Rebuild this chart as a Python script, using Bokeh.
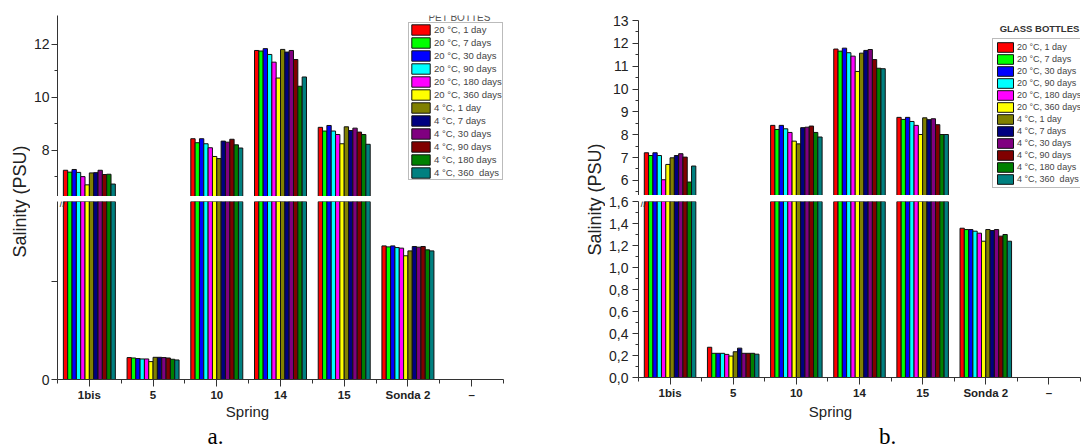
import numpy as np
from bokeh.plotting import figure
from bokeh.layouts import row, column
from bokeh.models import (ColumnDataSource, Range1d, FixedTicker, Legend, LegendItem,
                          Label, CustomJSTickFormatter)
from bokeh.transform import dodge
from bokeh.embed import file_html
from bokeh.resources import INLINE

# ---------------- data ----------------
CATEGORIES = ["1bis", "5", "10", "14", "15", "Sonda 2"]
TICK_LABELS = ["1bis", "5", "10", "14", "15", "Sonda 2", "–"]
SERIES = ["20 °C, 1 day", "20 °C, 7 days", "20 °C, 30 days", "20 °C, 90 days",
          "20 °C, 180 days", "20 °C, 360 days", "4 °C, 1 day", "4 °C, 7 days",
          "4 °C, 30 days", "4 °C, 90 days", "4 °C, 180 days", "4 °C, 360  days"]
COLORS = ["#FF0000", "#00FF00", "#0000FF", "#00FFFF", "#FF00FF", "#FFFF00",
          "#808000", "#000080", "#800080", "#800000", "#008000", "#008080"]

# PET bottles (panel a)
PET_1BIS = [7.25, 7.18, 7.28, 7.17, 7.01, 6.70, 7.15, 7.16, 7.25, 7.09, 7.10, 6.73]
PET_5 = [0.224, 0.220, 0.214, 0.210, 0.210, 0.183, 0.227, 0.227, 0.224, 0.220, 0.207, 0.200]
PET_10 = [8.44, 8.29, 8.44, 8.25, 8.10, 7.77, 7.69, 8.35, 8.31, 8.42, 8.21, 8.09]
PET_14 = [11.77, 11.75, 11.84, 11.62, 11.33, 10.73, 11.81, 11.71, 11.77, 11.43, 10.42, 10.77]
PET_15 = [8.87, 8.73, 8.94, 8.73, 8.60, 8.25, 8.89, 8.75, 8.84, 8.69, 8.60, 8.23]
PET_SONDA2 = [1.366, 1.356, 1.366, 1.349, 1.343, 1.265, 1.315, 1.360, 1.353, 1.360, 1.326, 1.315]

# Glass bottles (panel b)
GLASS_1BIS = [7.21, 7.09, 7.21, 7.09, 6.03, 6.70, 6.99, 7.09, 7.17, 7.02, 5.93, 6.63]
GLASS_5 = [0.275, 0.220, 0.220, 0.220, 0.210, 0.195, 0.234, 0.267, 0.220, 0.220, 0.220, 0.212]
GLASS_10 = [8.41, 8.23, 8.41, 8.26, 8.10, 7.72, 7.60, 8.31, 8.33, 8.38, 8.10, 7.90]
GLASS_14 = [11.75, 11.66, 11.79, 11.59, 11.44, 10.77, 11.57, 11.69, 11.73, 11.29, 10.91, 10.89]
GLASS_15 = [8.76, 8.67, 8.76, 8.58, 8.41, 8.01, 8.74, 8.66, 8.70, 8.44, 8.01, 8.01]
GLASS_SONDA2 = [1.357, 1.345, 1.345, 1.330, 1.312, 1.239, 1.345, 1.336, 1.345, 1.285, 1.300, 1.239]

PET_TICKS_UP = [8, 10, 12]
PET_MINOR_UP = [7, 9, 11]
PET_TICKS_LOW = [0, 1]
GLASS_TICKS_UP = [6, 7, 8, 9, 10, 11, 12, 13]
GLASS_MINOR_UP = [5.5, 6.5, 7.5, 8.5, 9.5, 10.5, 11.5, 12.5]
GLASS_TICKS_LOW = [0.0, 0.2, 0.4, 0.6, 0.8, 1.0, 1.2, 1.4, 1.6]
GLASS_MINOR_LOW = [0.1, 0.3, 0.5, 0.7, 0.9, 1.1, 1.3, 1.5]

FONT = "Liberation Sans"
SERIF = "Liberation Serif"
BAR_W = 0.068
AX = "#333333"


def make_source(lists):
    data = {"x": list(range(1, len(CATEGORIES) + 1))}
    for j in range(len(SERIES)):
        data["s%d" % j] = [lst[j] for lst in lists]
    return ColumnDataSource(data)


def base_fig(w, h, xr, yr, bl, br, bt, bb, xaxis=True):
    p = figure(width=w, height=h, x_range=xr, y_range=yr, output_backend="svg",
               toolbar_location=None, min_border_left=bl, min_border_right=br,
               min_border_top=bt, min_border_bottom=bb,
               x_axis_location="below" if xaxis else None)
    p.grid.visible = False
    p.outline_line_color = None
    p.background_fill_color = "white"
    p.border_fill_color = "white"
    return p


def style_y(ax, ticks, minor, fs, standoff):
    ax.ticker = FixedTicker(ticks=ticks, minor_ticks=minor)
    ax.axis_line_color = AX
    ax.major_tick_line_color = AX
    ax.minor_tick_line_color = AX
    ax.major_tick_in = 0
    ax.major_tick_out = 6
    ax.minor_tick_in = 0
    ax.minor_tick_out = 3
    ax.major_label_text_font = FONT
    ax.major_label_text_font_size = fs
    ax.major_label_text_color = "#222222"
    ax.major_label_standoff = standoff


def style_x(ax, standoff):
    n = len(TICK_LABELS)
    ax.ticker = FixedTicker(ticks=list(range(1, n + 1)),
                            minor_ticks=[i + 0.5 for i in range(n + 1)])
    ax.major_label_overrides = {i + 1: lab for i, lab in enumerate(TICK_LABELS)}
    ax.axis_line_color = AX
    ax.major_tick_line_color = AX
    ax.minor_tick_line_color = AX
    ax.major_tick_in = 0
    ax.major_tick_out = 7
    ax.minor_tick_in = 0
    ax.minor_tick_out = 4
    ax.major_label_text_font = FONT
    ax.major_label_text_font_style = "bold"
    ax.major_label_text_font_size = "11.5px"
    ax.major_label_text_color = "#222222"
    ax.major_label_standoff = standoff


def add_bars(p, src):
    rs = []
    for j in range(len(SERIES)):
        off = (j - (len(SERIES) - 1) / 2.0) * BAR_W
        r = p.vbar(x=dodge("x", off), top="s%d" % j, bottom=0, width=BAR_W, source=src,
                   fill_color=COLORS[j], line_color="#111111", line_width=1)
        rs.append(r)
    return rs


def panel(lists, W, bl, br, up_h, up_top, low_h, gap, low_bottom, up_range,
          low_range, up_ticks, up_minor, low_ticks, low_minor, low_formatter, low_overrides,
          legend_loc, legend_title, title_pos, title_bold, title_fs, leg_fs, glyph_w,
          leg_lh, leg_pad, leg_standoff, fs, y_standoff, x_standoff):
    src = make_source(lists)
    n = len(TICK_LABELS)
    xr = Range1d(0.5, n + 0.5)
    up = base_fig(W, up_h, xr, Range1d(*up_range), bl, br, up_top, 0, xaxis=False)
    low = base_fig(W, low_h, xr, Range1d(*low_range), bl, br, gap, low_bottom)
    rs = add_bars(up, src)
    add_bars(low, src)
    style_y(up.yaxis[0], up_ticks, up_minor, fs, y_standoff)
    style_y(low.yaxis[0], low_ticks, low_minor, fs, y_standoff)
    if low_formatter is not None:
        low.yaxis[0].formatter = low_formatter
    if low_overrides is not None:
        low.yaxis[0].major_label_overrides = low_overrides
    style_x(low.xaxis[0], x_standoff)

    legend = Legend(items=[LegendItem(label=s, renderers=[r]) for s, r in zip(SERIES, rs)],
                    location=legend_loc, glyph_width=glyph_w, glyph_height=leg_lh,
                    label_height=leg_lh, label_width=20, spacing=0, padding=leg_pad,
                    margin=0, label_standoff=leg_standoff, label_text_font=FONT,
                    label_text_font_size=leg_fs, label_text_color="#444444",
                    border_line_color="#777777", border_line_width=1,
                    background_fill_color="white", background_fill_alpha=1)
    up.add_layout(legend)
    up.add_layout(Label(x=title_pos[0], y=title_pos[1], x_units="screen", y_units="screen",
                        text=legend_title, text_align="center", text_baseline="middle",
                        text_font=FONT, text_font_size=title_fs,
                        text_font_style="bold" if title_bold else "normal",
                        text_color="#333333" if title_bold else "#555555"))
    # axis-break mark at the top of the lower segment
    low.add_layout(Label(x=0.5, y=low_range[1], x_offset=5, y_offset=-2, text="//",
                         text_align="center", text_baseline="middle", text_font=FONT,
                         text_font_size="10px", text_color=AX))
    return column(up, low, spacing=0)


def ylabel_fig(w, h, cx, cy):
    p = figure(width=w, height=h, output_backend="svg", toolbar_location=None,
               x_axis_location=None, y_axis_location=None, min_border=0,
               x_range=Range1d(0, 1), y_range=Range1d(0, 1))
    p.grid.visible = False
    p.outline_line_color = None
    p.add_layout(Label(x=cx, y=cy, x_units="screen", y_units="screen", text="Salinity (PSU)",
                       angle=90, angle_units="deg", text_align="center",
                       text_baseline="middle", text_font=FONT, text_font_size="18px",
                       text_color="#222222"))
    return p


TOP_H = 403
CAP_H = 448 - TOP_H

panel_a = panel([PET_1BIS, PET_5, PET_10, PET_14, PET_15, PET_SONDA2],
                W=546, bl=23, br=73, up_h=196, up_top=15, low_h=207, gap=5,
                low_bottom=23, up_range=(6.26, 13.09), low_range=(0, 1.82),
                up_ticks=PET_TICKS_UP, up_minor=PET_MINOR_UP,
                low_ticks=PET_TICKS_LOW, low_minor=[], low_formatter=None,
                low_overrides={1: ""},
                legend_loc=(351, 16), legend_title="PET BOTTES", title_pos=(402, 179),
                title_bold=False, title_fs="10px", leg_fs="9.5px", glyph_w=23, leg_lh=13,
                leg_pad=0, leg_standoff=2, fs="14px", y_standoff=2, x_standoff=2)

glass_fmt = CustomJSTickFormatter(code="return tick.toFixed(1).replace('.', ',');")
panel_b = panel([GLASS_1BIS, GLASS_5, GLASS_10, GLASS_14, GLASS_15, GLASS_SONDA2],
                W=486, bl=33, br=11, up_h=195, up_top=20, low_h=208, gap=6,
                low_bottom=26, up_range=(5.34, 13.0), low_range=(0, 1.6),
                up_ticks=GLASS_TICKS_UP, up_minor=GLASS_MINOR_UP,
                low_ticks=GLASS_TICKS_LOW, low_minor=GLASS_MINOR_LOW,
                low_formatter=glass_fmt, low_overrides=None,
                legend_loc=(354, 7), legend_title="GLASS BOTTLES", title_pos=(401, 167),
                title_bold=True, title_fs="9.5px", leg_fs="9px", glyph_w=20, leg_lh=12,
                leg_pad=2, leg_standoff=2, fs="14px", y_standoff=4, x_standoff=2)

lab_a = ylabel_fig(30, TOP_H, 19, TOP_H - 201)
lab_b = ylabel_fig(29, TOP_H, 18, TOP_H - 199)

# caption strip below: axis titles and panel letters
cap = figure(width=1091, height=CAP_H, output_backend="svg", toolbar_location=None,
             x_axis_location=None, y_axis_location=None, min_border=0,
             x_range=Range1d(0, 1), y_range=Range1d(0, 1))
cap.grid.visible = False
cap.outline_line_color = None
for txt, cx in (("Spring", 247), ("Spring", 830)):
    cap.add_layout(Label(x=cx, y=448 - 411, x_units="screen", y_units="screen",
                         text=txt, text_align="center", text_baseline="middle",
                         text_font=FONT, text_font_size="15px", text_color="#222222"))
for txt, cx in (("a.", 215), ("b.", 887)):
    cap.add_layout(Label(x=cx, y=448 - 436, x_units="screen", y_units="screen",
                         text=txt, text_align="center", text_baseline="middle",
                         text_font=SERIF, text_font_size="23px", text_color="#000000"))

layout = column(row(lab_a, panel_a, lab_b, panel_b, spacing=0), cap, spacing=0)

open("out.html", "w").write(file_html(layout, INLINE))
